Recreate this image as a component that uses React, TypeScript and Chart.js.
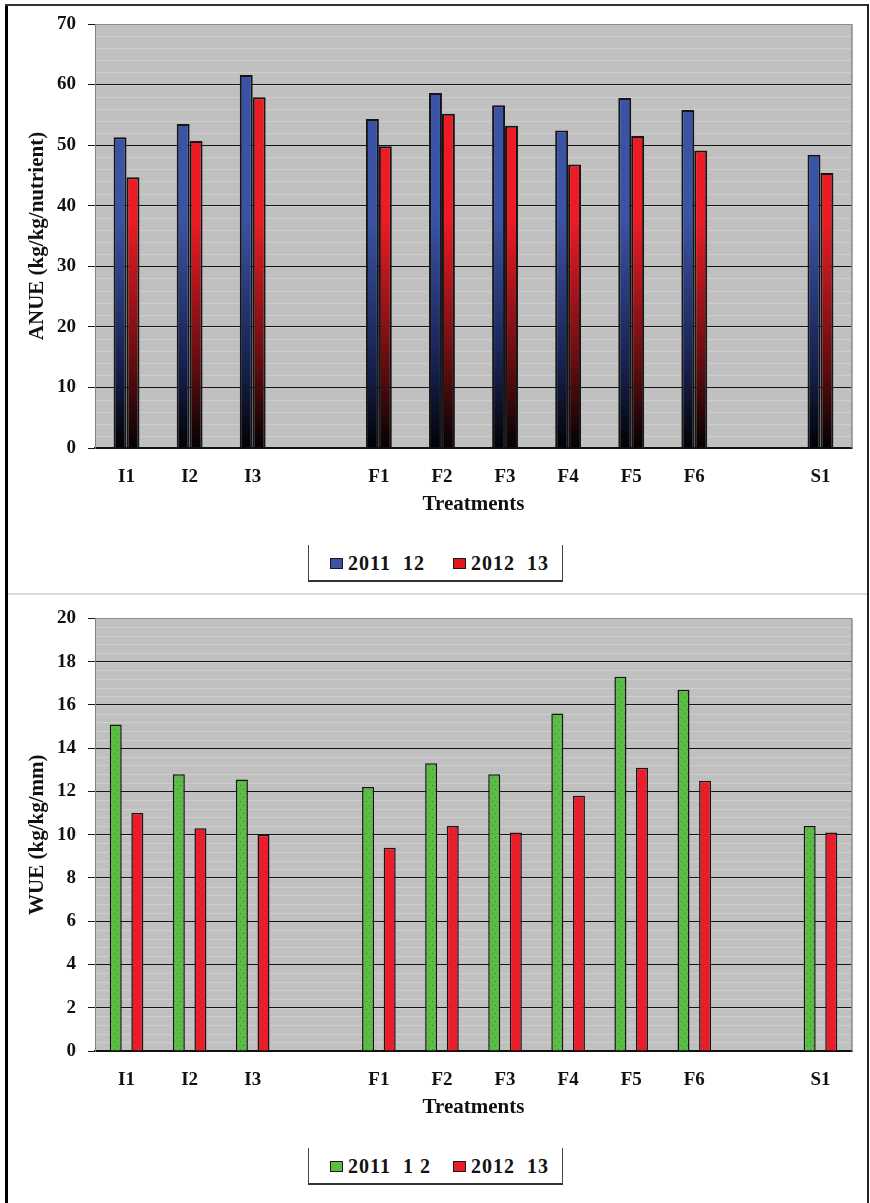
import React, { useEffect, useRef } from 'react';
import { Chart, registerables } from 'chart.js';

Chart.register(...registerables);

// Treatments on the category axis; blank slots separate the groups.
const categories = ['I1', 'I2', 'I3', '', 'F1', 'F2', 'F3', 'F4', 'F5', 'F6', '', 'S1'];

// Agronomic nutrient use efficiency (kg/kg/nutrient)
const anue2011 = [51.3, 53.5, 61.6, null, 54.3, 58.6, 56.6, 52.4, 57.8, 55.8, null, 48.4];
const anue2012 = [44.7, 50.7, 57.9, null, 49.8, 55.2, 53.2, 46.8, 51.5, 49.1, null, 45.4];

// Water use efficiency (kg/kg/mm)
const wue2011 = [15.1, 12.8, 12.55, null, 12.2, 13.3, 12.8, 15.6, 17.3, 16.7, null, 10.4];
const wue2012 = [11.0, 10.3, 10.0, null, 9.4, 10.4, 10.1, 11.8, 13.1, 12.5, null, 10.1];

// Legend labels
const anueLegend = ['2011  12', '2012  13'];
const wueLegend = ['2011  1 2', '2012  13'];

const FONT = '"Liberation Serif", "Times New Roman", serif';
const tickFont = { family: FONT, size: 19, weight: 'bold' as const };
const titleFont = { family: FONT, size: 21, weight: 'bold' as const, lineHeight: 1.2 };

// Vertical fade from black at the baseline up to the full colour.
function fade(color: string, mid: string, topValue: number) {
  return (c: any) => {
    const chart = c.chart;
    const area = chart.chartArea;
    if (!area) return color;
    const yTop = chart.scales.y.getPixelForValue(topValue);
    const g = chart.ctx.createLinearGradient(0, area.bottom, 0, yTop);
    g.addColorStop(0, '#020204');
    g.addColorStop(0.35, mid);
    g.addColorStop(1, color);
    return g;
  };
}

// Small dotted fill pattern.
function dotted(ctx: CanvasRenderingContext2D, base: string, dot: string) {
  const c = document.createElement('canvas');
  c.width = 6;
  c.height = 8;
  const g = c.getContext('2d')!;
  g.fillStyle = base;
  g.fillRect(0, 0, 6, 8);
  g.fillStyle = dot;
  g.fillRect(3, 2, 1, 1);
  g.fillRect(0, 6, 1, 1);
  return ctx.createPattern(c, 'repeat') as CanvasPattern;
}

type PanelProps = {
  top: number;
  height: number;
  padTop: number;
  padBottom: number;
  xHeight: number;
  yTitle: string;
  yMax: number;
  yStep: number;
  minorStep: number;
  catPct: number;
  barPct: number;
  datasets: (ctx: CanvasRenderingContext2D) => any[];
};

function BarPanel(p: PanelProps) {
  const ref = useRef<HTMLCanvasElement>(null);

  useEffect(() => {
    const canvas = ref.current!;
    const ctx = canvas.getContext('2d')!;

    // Grey plot background, faint minor lines and right-hand frame.
    const plotFrame = {
      id: 'plotFrame',
      beforeDraw(chart: any) {
        const { ctx: c, chartArea: a, scales } = chart;
        c.save();
        c.fillStyle = '#c0c0c0';
        c.fillRect(a.left, a.top, a.right - a.left, a.bottom - a.top);
        c.strokeStyle = '#cecece';
        c.lineWidth = 1;
        const n = Math.round(p.yMax / p.minorStep);
        for (let i = 1; i < n; i++) {
          const v = i * p.minorStep;
          const y = Math.round(scales.y.getPixelForValue(v)) + 0.5;
          c.beginPath();
          c.moveTo(a.left, y);
          c.lineTo(a.right, y);
          c.stroke();
        }
        c.restore();
      },
      afterDraw(chart: any) {
        const { ctx: c, chartArea: a } = chart;
        c.save();
        c.strokeStyle = '#8c8c8c';
        c.lineWidth = 1.5;
        c.beginPath();
        c.moveTo(a.right, a.top);
        c.lineTo(a.right, a.bottom);
        c.stroke();
        c.restore();
      },
    };

    const chart = new Chart(ctx, {
      type: 'bar',
      data: { labels: categories, datasets: p.datasets(ctx) },
      options: {
        responsive: false,
        animation: false,
        devicePixelRatio: 1,
        layout: { padding: { left: 25, right: 18, top: p.padTop, bottom: p.padBottom } },
        datasets: { bar: { categoryPercentage: p.catPct, barPercentage: p.barPct } },
        plugins: { legend: { display: false }, tooltip: { enabled: false } },
        scales: {
          x: {
            grid: { display: false, drawTicks: false },
            border: { color: '#111', width: 1.5 },
            ticks: { padding: 18, color: '#111', font: tickFont, autoSkip: false, maxRotation: 0 },
            title: {
              display: true,
              text: 'Treatments',
              color: '#111',
              font: titleFont,
              padding: { top: 0, bottom: 0 },
            },
            afterFit: (s: any) => {
              s.height = p.xHeight;
            },
          },
          y: {
            min: 0,
            max: p.yMax,
            ticks: { stepSize: p.yStep, padding: 12, color: '#111', font: tickFont },
            grid: {
              color: (c: any) => (c.tick && c.tick.value === p.yMax ? '#8c8c8c' : '#141414'),
              tickColor: '#141414',
              tickLength: 7,
              lineWidth: 1,
            },
            border: { color: '#808080', width: 1 },
            title: {
              display: true,
              text: p.yTitle,
              color: '#111',
              font: titleFont,
              padding: { top: 0, bottom: 0 },
            },
            afterFit: (s: any) => {
              s.width = 70;
            },
          },
        },
      } as any,
      plugins: [plotFrame],
    });
    return () => chart.destroy();
  }, []);

  return (
    <canvas
      ref={ref}
      width={870}
      height={p.height}
      style={{ position: 'absolute', left: 0, top: p.top, width: 870, height: p.height }}
    />
  );
}

type LegendItem = { label: string; swatch: React.CSSProperties };

function Legend({ top, items }: { top: number; items: LegendItem[] }) {
  const xs = [21, 144];
  return (
    <div
      style={{
        position: 'absolute',
        left: 308,
        top,
        width: 253,
        height: 35,
        borderLeft: '1px solid #444',
        borderRight: '1px solid #444',
        borderBottom: '2px solid #333',
      }}
    >
      {items.map((it, i) => (
        <React.Fragment key={i}>
          <div
            style={{
              position: 'absolute',
              left: xs[i],
              top: 13,
              width: 11,
              height: 9,
              border: '1.5px solid #1a1a1a',
              ...it.swatch,
            }}
          />
          <div
            style={{
              position: 'absolute',
              left: xs[i] + 18,
              top: 5,
              fontFamily: FONT,
              fontWeight: 'bold',
              fontSize: 20,
              letterSpacing: 1,
              lineHeight: '26px',
              whiteSpace: 'pre',
              color: '#111',
            }}
          >
            {it.label}
          </div>
        </React.Fragment>
      ))}
    </div>
  );
}

export default function App() {
  return (
    <div
      style={{
        position: 'absolute',
        left: 0,
        top: 0,
        width: 870,
        height: 1203,
        background: '#fff',
        overflow: 'hidden',
      }}
    >
      {/* outer frame and panel divider */}
      <div style={{ position: 'absolute', left: 5, top: 4, width: 3, height: 1199, background: '#000' }} />
      <div style={{ position: 'absolute', left: 5, top: 4, width: 864, height: 2, background: '#333' }} />
      <div style={{ position: 'absolute', left: 867, top: 4, width: 2, height: 1199, background: '#222' }} />
      <div style={{ position: 'absolute', left: 8, top: 593, width: 859, height: 2, background: '#dadada' }} />

      <BarPanel
        top={0}
        height={530}
        padTop={24}
        padBottom={13}
        xHeight={69}
        yTitle="ANUE (kg/kg/nutrient)"
        yMax={70}
        yStep={10}
        minorStep={2}
        catPct={0.41}
        barPct={1}
        datasets={() => [
          {
            label: anueLegend[0],
            data: anue2011,
            backgroundColor: fade('#3a53a4', '#16204e', 38),
            borderColor: '#151515',
            borderWidth: 2,
          },
          {
            label: anueLegend[1],
            data: anue2012,
            backgroundColor: fade('#ed1c24', '#5e0d10', 38),
            borderColor: '#151515',
            borderWidth: 2,
          },
        ]}
      />
      <Legend
        top={545}
        items={[
          { label: anueLegend[0], swatch: { background: '#3a53a4' } },
          { label: anueLegend[1], swatch: { background: '#e3161e' } },
        ]}
      />

      <BarPanel
        top={595}
        height={530}
        padTop={22}
        padBottom={5}
        xHeight={69}
        yTitle="WUE (kg/kg/mm)"
        yMax={20}
        yStep={2}
        minorStep={0.4}
        catPct={0.685}
        barPct={0.556}
        datasets={(ctx) => [
          {
            label: wueLegend[0],
            data: wue2011,
            backgroundColor: dotted(ctx, '#5dbd41', '#1f7f86'),
            borderColor: '#151515',
            borderWidth: 1.5,
          },
          {
            label: wueLegend[1],
            data: wue2012,
            backgroundColor: dotted(ctx, '#ec1c26', '#b43a8a'),
            borderColor: '#151515',
            borderWidth: 1.5,
          },
        ]}
      />
      <Legend
        top={1148}
        items={[
          { label: wueLegend[0], swatch: { background: '#5dbd41' } },
          { label: wueLegend[1], swatch: { background: '#ec1c26' } },
        ]}
      />
    </div>
  );
}
